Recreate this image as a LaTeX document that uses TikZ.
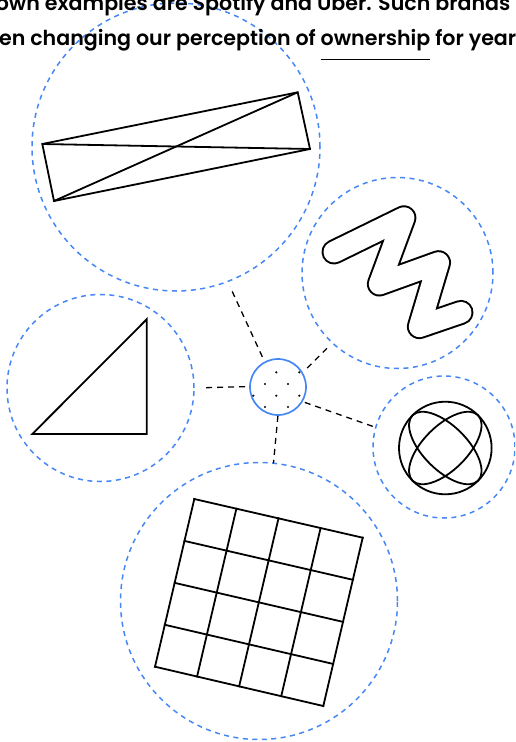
\documentclass[tikz,border=0pt]{standalone}
\usepackage{fontspec}
\setmainfont{Poppins}[BoldFont={Poppins SemiBold}]
\usetikzlibrary{calc}
\definecolor{cblue}{RGB}{70,135,245}
\begin{document}
\begin{tikzpicture}[x=1pt,y=-1pt,
  bubble/.style={circle, draw=cblue, line width=1.5pt, dash pattern=on 5pt off 4.5pt, minimum size=#1, inner sep=0pt, outer sep=0pt},
  link/.style={draw=black, line width=1.3pt, dash pattern=on 6pt off 5pt},
  icon/.style={draw=black, line width=1.8pt, line join=miter},
  txt/.style={font=\bfseries\fontsize{20.6}{24}\selectfont, text=black, inner sep=0pt, outer sep=0pt}]
\useasboundingbox (0,0) rectangle (515,742);
\clip (0,0) rectangle (515,742);

% bubbles
\node[bubble=288pt] (top) at (176,147) {};
\node[bubble=191pt] (zig) at (397.5,273) {};
\node[bubble=187pt] (tri) at (100.5,388) {};
\node[bubble=142pt] (glb) at (444,447) {};
\node[bubble=277pt] (grd) at (259,601) {};
\node[circle, draw=cblue, line width=1.7pt, minimum size=56pt, inner sep=0pt, outer sep=0pt] (hub) at (278,387) {};

% dots in hub
\foreach \p in {(276.3,372.3),(299.3,372.3),(265,384),(288,384),(253.3,395.7),(276.3,395.7),(299.3,395.7),(265,407),(288,407)}
  \fill \p circle (1.2);

% connectors
\draw[link, shorten <=6pt, shorten >=6pt] (hub.118.8) -- (top.291.2);
\draw[link, shorten <=7pt, shorten >=7pt] (hub.30.7) -- (zig.227.7);
\draw[link, shorten <=5pt, shorten >=11pt] (hub.179.5) -- (tri.0);
\draw[link, shorten <=3pt] (hub.329.8) -- (glb.164.8);
\draw[link, shorten <=1pt] (hub.270.6) -- (grd.84.5);

% rectangle with diagonals
\draw[icon] (42.3,144) -- (297.7,92.3) -- (310,149) -- (54,201) -- cycle;
\draw[icon] (42.3,144) -- (310,149);
\draw[icon] (54,201) -- (297.7,92.3);

% triangle
\draw[icon] (146.7,319.3) -- (146.7,434) -- (32.3,434) -- cycle;

% zigzag
\draw[black, line width=25pt, line cap=round, line join=round]
  (334,252) -- (403.9,217.8) -- (379.4,284) -- (438.5,262.7) -- (419.4,326.6) -- (461,312.4);
\draw[white, line width=21pt, line cap=round, line join=round]
  (334,252) -- (403.9,217.8) -- (379.4,284) -- (438.5,262.7) -- (419.4,326.6) -- (461,312.4);

% globe
\draw[icon] (445.3,448) circle (46.3);
\draw[icon, rotate around={45:(445.3,448)}] (445.3,448) ellipse [x radius=46.3, y radius=22];
\draw[icon, rotate around={-45:(445.3,448)}] (445.3,448) ellipse [x radius=46.3, y radius=22];

% grid
\coordinate (TL) at (194.3,499);
\coordinate (TR) at (362.7,537.7);
\coordinate (BL) at (155,666.7);
\coordinate (BR) at (323.3,706);
\foreach \i in {0,1,2,3,4} {
  \draw[icon, line cap=rect] ($(TL)!\i/4!(BL)$) -- ($(TR)!\i/4!(BR)$);
  \draw[icon, line cap=rect] ($(TL)!\i/4!(TR)$) -- ($(BL)!\i/4!(BR)$);
}

% text
\node[txt, anchor=base west] (spot) at (192.7,10.5) {Spotify and Uber. Such brands h};
\node[txt, anchor=base east] (l1a) at (spot.base west) {own examples are\ \kern0pt};
\node[txt, anchor=base west] (own) at (320.7,45.5) {ownership};
\node[txt, anchor=base east] (l2a) at (own.base west) {en changing our perception of\ \kern0pt};
\node[txt, anchor=base west] (l2b) at (own.base east) {\kern0pt\ for years};
\draw[line width=1.3pt] ([yshift=-13.8pt]own.base west) -- ([yshift=-13.8pt]own.base east);
\end{tikzpicture}
\end{document}
